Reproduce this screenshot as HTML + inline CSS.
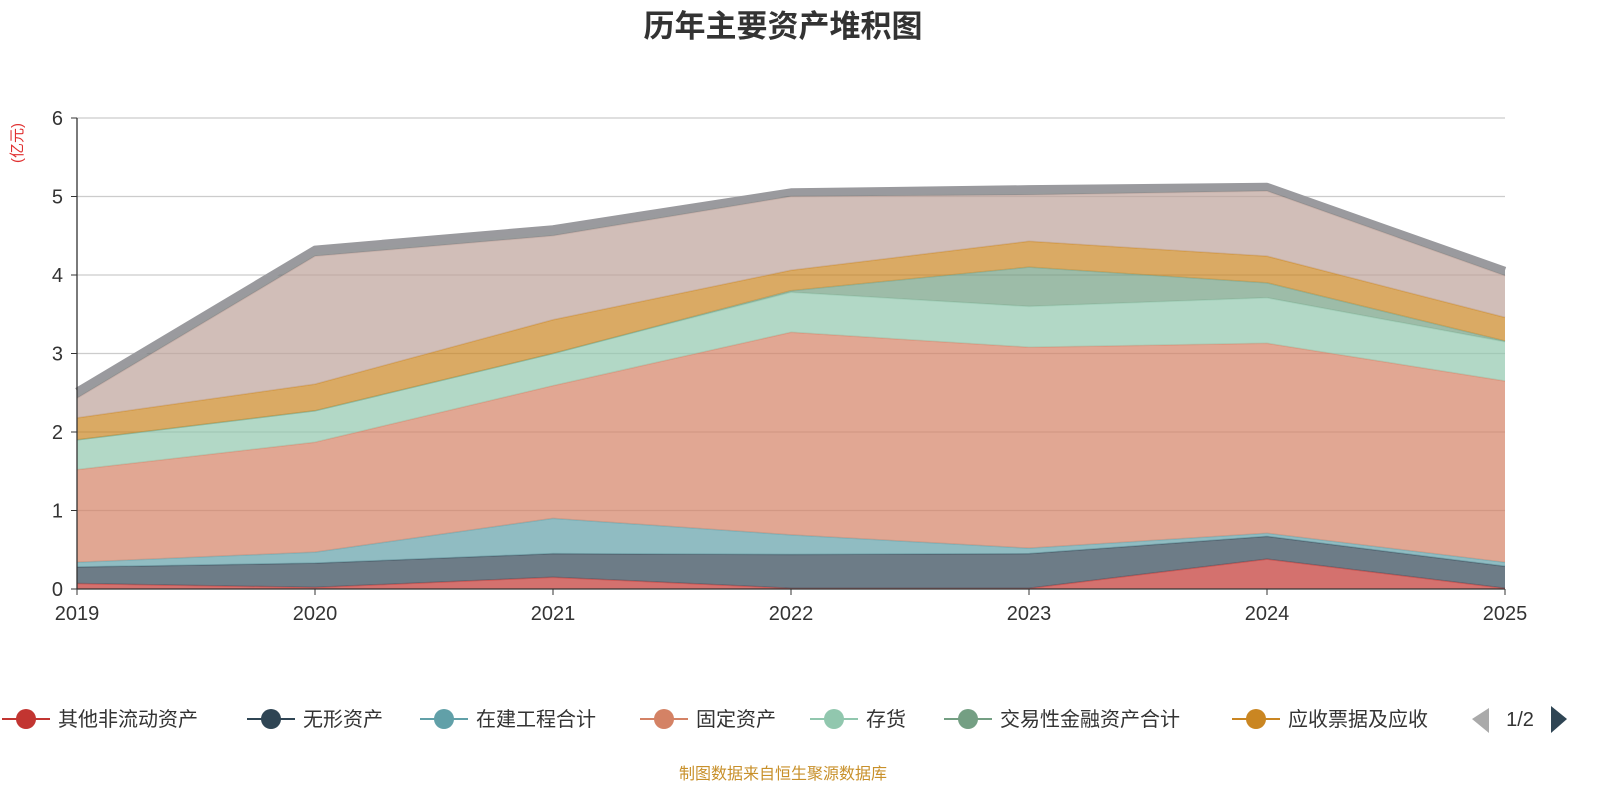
<!DOCTYPE html>
<html><head><meta charset="utf-8">
<style>
body{margin:0;background:#fff;}
svg text{font-family:"Liberation Sans","Noto Sans CJK SC",sans-serif;}
</style></head>
<body>
<svg id="chart" width="1600" height="800" viewBox="0 0 1600 800" xmlns="http://www.w3.org/2000/svg">
<text x="783" y="37" text-anchor="middle" font-size="31" font-weight="bold" fill="#333">历年主要资产堆积图</text>
<text transform="translate(22,143) rotate(-90)" text-anchor="middle" font-size="15" fill="#e03030">(亿元)</text>
<g id="grid"></g>
<g id="areas"></g>
<g id="axes"></g>
<g id="legend"></g>
<text x="783" y="779" text-anchor="middle" font-size="16" fill="#c8902a">制图数据来自恒生聚源数据库</text>
</svg>
<script>
const years=["2019","2020","2021","2022","2023","2024","2025"];
const yTicks=[0,1,2,3,4,5,6];
const seriesNames=["其他非流动资产","无形资产","在建工程合计","固定资产","存货","交易性金融资产合计","应收票据及应收","其他资产","总计"];
const s1=[0.07,0.02,0.15,0.01,0.01,0.38,0.01];
const s2=[0.21,0.31,0.30,0.43,0.44,0.29,0.28];
const s3=[0.06,0.14,0.45,0.25,0.07,0.04,0.05];
const s4=[1.18,1.40,1.69,2.58,2.56,2.42,2.31];
const s5=[0.38,0.40,0.41,0.51,0.52,0.58,0.50];
const s6=[0,0,0,0.02,0.50,0.19,0.01];
const s7=[0.28,0.34,0.43,0.26,0.33,0.34,0.30];
const s8=[0.25,1.63,1.07,0.94,0.59,0.83,0.53];
const s9=[0.09,0.09,0.09,0.06,0.08,0.06,0.07];
const series=[s1,s2,s3,s4,s5,s6,s7,s8,s9];
const colors=["#c23531","#2f4554","#61a0a8","#d48265","#91c7ae","#749f83","#ca8622","#bda29a","#6e7074"];
const NS="http://www.w3.org/2000/svg";
const X0=77,X1=1505,Y0=589,Y6=118;
const xS=i=>X0+(X1-X0)*i/(years.length-1);
const yS=v=>Y0-(Y0-Y6)*v/6;
function mk(t,a,p){const e=document.createElementNS(NS,t);for(const k in a)e.setAttribute(k,a[k]);p.appendChild(e);return e;}
const grid=document.getElementById('grid'),axes=document.getElementById('axes'),areas=document.getElementById('areas'),legend=document.getElementById('legend');
yTicks.forEach(t=>{
 if(t>0){const l=mk('line',{x1:X0,x2:X1,y1:yS(t),y2:yS(t),stroke:'#ccc','stroke-width':1.3},grid);
 
 }
 const tx=mk('text',{x:X0-14,y:yS(t)+7,'text-anchor':'end','font-size':20,fill:'#333'},axes);tx.textContent=t;
 
 
 mk('line',{x1:X0-6,x2:X0,y1:yS(t),y2:yS(t),stroke:'#333'},axes);
});
mk('line',{x1:X0,x2:X0,y1:Y6,y2:Y0,stroke:'#333','stroke-width':1.3},axes);
mk('line',{x1:X0,x2:X1,y1:Y0,y2:Y0,stroke:'#333','stroke-width':1.3},axes);
years.forEach((y,i)=>{
 mk('line',{x1:xS(i),x2:xS(i),y1:Y0,y2:Y0+6,stroke:'#333'},axes);
 const tx=mk('text',{x:xS(i),y:Y0+31,'text-anchor':'middle','font-size':20,fill:'#333'},axes);tx.textContent=y;
 
 
});
let base=years.map(()=>0);
series.forEach((s,k)=>{
 const top=base.map((b,i)=>b+s[i]);
 let d='M'+top.map((v,i)=>xS(i)+','+yS(v)).join('L');
 for(let i=years.length-1;i>=0;i--)d+='L'+xS(i)+','+yS(base[i]);
 d+='Z';
 const last=k===series.length-1;
 const a=mk('path',{d:d,fill:colors[k],'fill-opacity':0.7,stroke:'none'},areas);
 
 
 const ln=mk('path',{d:'M'+top.map((v,i)=>xS(i)+','+yS(v)).join('L'),fill:'none',stroke:last?'#9a9a9e':colors[k],'stroke-opacity':last?1:0.5,'stroke-width':last?7:1.5,'stroke-linejoin':'round'},areas);
 
 
 base=top;
});
const lx=[0,245,418,638,808,942,1230];
for(let k=0;k<7;k++){
 const g=mk('g',{},legend);
 
 
 mk('line',{x1:lx[k]+2,x2:lx[k]+50,y1:719,y2:719,stroke:colors[k],'stroke-width':2},g);
 mk('circle',{cx:lx[k]+26,cy:719,r:10,fill:colors[k]},g);
 const t=mk('text',{x:lx[k]+58,y:726,'font-size':20,fill:'#333'},g);t.textContent=seriesNames[k];
}
const pp=mk('path',{d:'M1489,708 L1472,719 L1489,733 Z',fill:'#aaa'},legend);


const pt=mk('text',{x:1520,y:726,'text-anchor':'middle','font-size':20,fill:'#333'},legend);pt.textContent='1/2';


const pn=mk('path',{d:'M1551,706 L1567,719 L1551,733 Z',fill:'#2f4554'},legend);


</script>
</body></html>
